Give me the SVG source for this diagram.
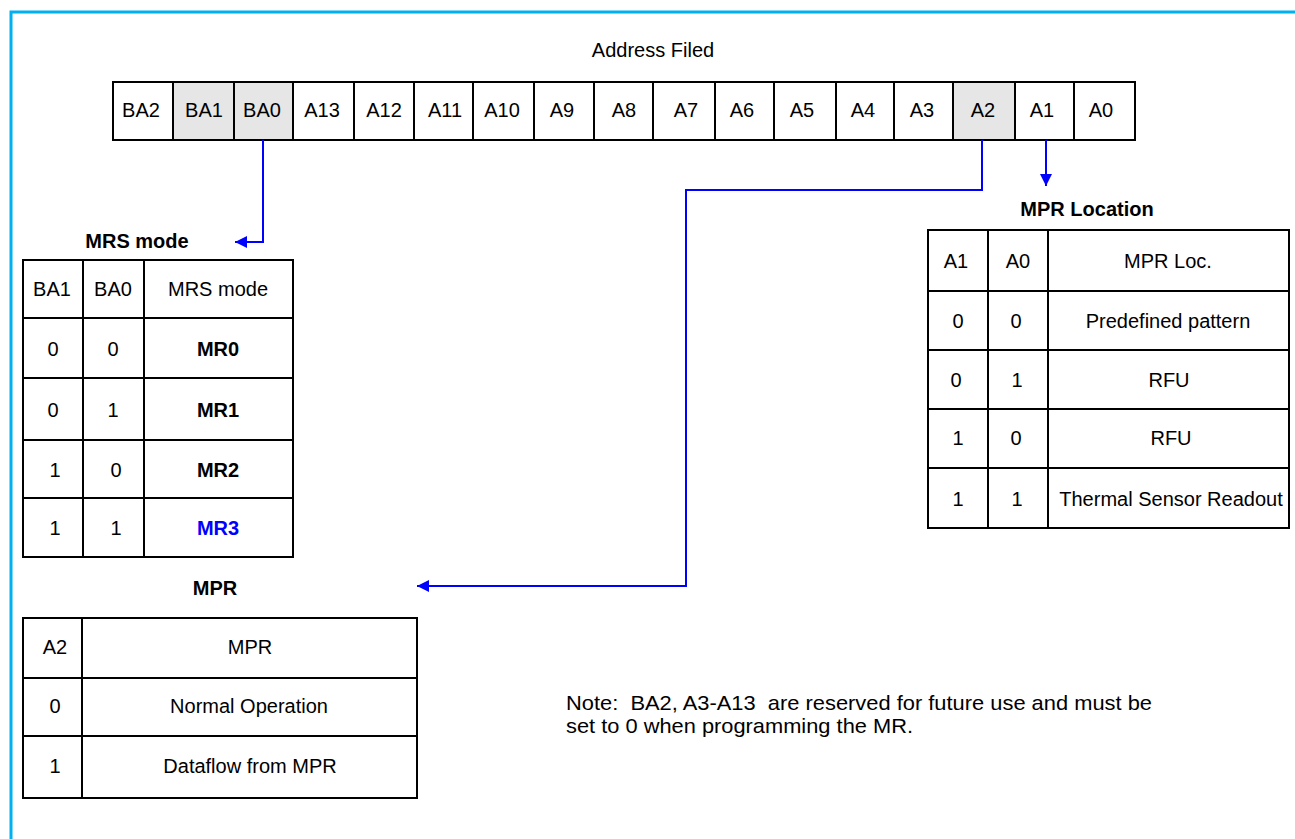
<svg xmlns="http://www.w3.org/2000/svg" width="1295" height="839" viewBox="0 0 1295 839">
<defs>
<style>
text{font-family:"Liberation Sans",Arial,sans-serif;font-size:20px;fill:#000;text-anchor:middle}
.b{font-weight:bold}
.blue{fill:#0000FF}
.cell{fill:#fff;stroke:#000;stroke-width:2}
.gray{fill:#E6E6E6;stroke:#000;stroke-width:2}
.ln{stroke:#000;stroke-width:2;fill:none}
.conn{stroke:#0000FF;stroke-width:2;fill:none}
.note{text-anchor:start;white-space:pre;font-size:21px}
</style>
<marker id="ah" viewBox="0 0 12 12" refX="12" refY="6" markerWidth="12" markerHeight="12" markerUnits="userSpaceOnUse" orient="auto">
<path d="M0,0 L12,6 L0,12 z" fill="#0000FF"/>
</marker>
</defs>
<rect width="1295" height="839" fill="#fff"/>
<path d="M11,839 V12 H1295" fill="none" stroke="#00B0F0" stroke-width="3"/>

<g id="address-field">
<text x="653" y="57">Address Filed</text>
<rect class="cell" x="113" y="82" width="1022" height="58"/>
<rect class="gray" x="173" y="82" width="61" height="58"/>
<rect class="gray" x="234" y="82" width="59" height="58"/>
<rect class="gray" x="953" y="82" width="62" height="58"/>
<path class="ln" d="M354,82V140M414,82V140M473,82V140M534,82V140M594,82V140M653,82V140M715,82V140M774,82V140M836,82V140M894,82V140M1074,82V140"/>
<text x="141" y="117">BA2</text>
<text x="204" y="117">BA1</text>
<text x="262" y="117">BA0</text>
<text x="322" y="117">A13</text>
<text x="384" y="117">A12</text>
<text x="445" y="117">A11</text>
<text x="502" y="117">A10</text>
<text x="562" y="117">A9</text>
<text x="624" y="117">A8</text>
<text x="686" y="117">A7</text>
<text x="742" y="117">A6</text>
<text x="802" y="117">A5</text>
<text x="863" y="117">A4</text>
<text x="922" y="117">A3</text>
<text x="983" y="117">A2</text>
<text x="1042" y="117">A1</text>
<text x="1101" y="117">A0</text>
</g>

<g id="connectors">
<path class="conn" d="M263,140 V242 H235" marker-end="url(#ah)"/>
<path class="conn" d="M1046,140 V186" marker-end="url(#ah)"/>
<path class="conn" d="M982,140 V190 H686 V586 H417" marker-end="url(#ah)"/>
</g>

<g id="mrs-mode">
<text class="b" x="137" y="248">MRS mode</text>
<rect class="cell" x="23" y="260" width="270" height="297"/>
<path class="ln" d="M83,260V557M144,260V557M23,318H293M23,378H293M23,440H293M23,498H293"/>
<text x="52" y="296">BA1</text>
<text x="113" y="296">BA0</text>
<text x="218" y="296">MRS mode</text>
<text x="53" y="356">0</text>
<text x="113" y="356">0</text>
<text class="b" x="218" y="356">MR0</text>
<text x="53" y="417">0</text>
<text x="113" y="417">1</text>
<text class="b" x="218" y="417">MR1</text>
<text x="55" y="477">1</text>
<text x="116" y="477">0</text>
<text class="b" x="218" y="477">MR2</text>
<text x="55" y="535">1</text>
<text x="116" y="535">1</text>
<text class="b blue" x="218" y="535">MR3</text>
</g>

<g id="mpr-location">
<text class="b" x="1087" y="216">MPR Location</text>
<rect class="cell" x="928" y="230" width="361" height="298"/>
<path class="ln" d="M988,230V528M1048,230V528M928,291H1289M928,350H1289M928,409H1289M928,468H1289"/>
<text x="956" y="268">A1</text>
<text x="1018" y="268">A0</text>
<text x="1168" y="268">MPR Loc.</text>
<text x="958" y="328">0</text>
<text x="1016" y="328">0</text>
<text x="1168" y="328">Predefined pattern</text>
<text x="956" y="387">0</text>
<text x="1017" y="387">1</text>
<text x="1169" y="387">RFU</text>
<text x="958" y="445">1</text>
<text x="1016" y="445">0</text>
<text x="1171" y="445">RFU</text>
<text x="958" y="506">1</text>
<text x="1017" y="506">1</text>
<text x="1171" y="506">Thermal Sensor Readout</text>
</g>

<g id="mpr">
<text class="b" x="215" y="595">MPR</text>
<rect class="cell" x="23" y="618" width="394" height="180"/>
<path class="ln" d="M82,618V798M23,678H417M23,736H417"/>
<text x="55" y="654">A2</text>
<text x="250" y="654">MPR</text>
<text x="55" y="713">0</text>
<text x="249" y="713">Normal Operation</text>
<text x="55" y="773">1</text>
<text x="250" y="773">Dataflow from MPR</text>
</g>

<g id="note">
<text class="note" x="566" y="710" xml:space="preserve" textLength="586" lengthAdjust="spacingAndGlyphs">Note:  BA2, A3-A13  are reserved for future use and must be</text>
<text class="note" x="566" y="733" textLength="347" lengthAdjust="spacingAndGlyphs">set to 0 when programming the MR.</text>
</g>
</svg>
